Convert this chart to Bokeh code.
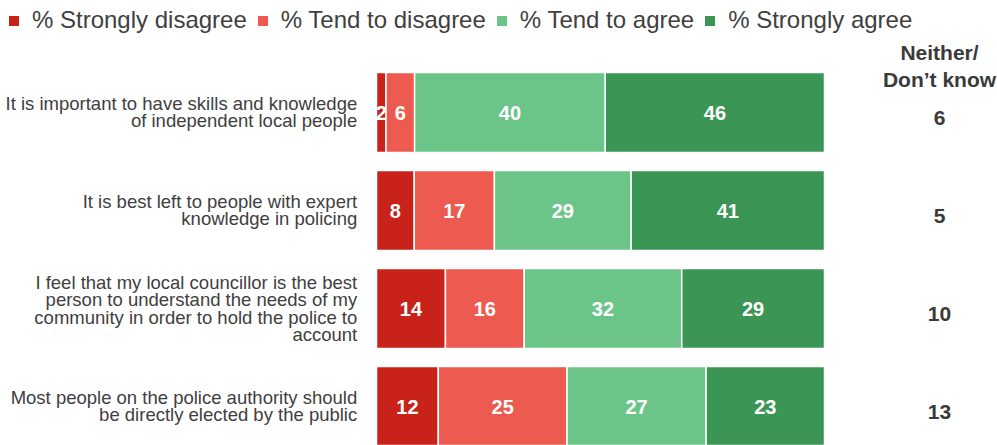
from bokeh.plotting import figure
from bokeh.models import Range1d, ColumnDataSource, Legend, LegendItem
from bokeh.core.properties import value
from bokeh.embed import file_html
from bokeh.resources import INLINE
import numpy as np

# ---- data ----
statements = [
    "It is important to have skills and knowledge\nof independent local people",
    "It is best left to people with expert\nknowledge in policing",
    "I feel that my local councillor is the best\nperson to understand the needs of my\ncommunity in order to hold the police to\naccount",
    "Most people on the police authority should\nbe directly elected by the public",
]
strongly_disagree = [2, 8, 14, 12]
tend_disagree = [6, 17, 16, 25]
tend_agree = [40, 29, 32, 27]
strongly_agree = [46, 41, 29, 23]
neither_dont_know = [6, 5, 10, 13]
series_names = ["% Strongly disagree", "% Tend to disagree", "% Tend to agree", "% Strongly agree"]
neither_header = "Neither/\nDon\u2019t know"

# ---- styles ----
colors = ["#C8221A", "#EC5A50", "#6CC588", "#3B9555"]
FONT = "Liberation Sans"
W, H = 997, 445
PX = 4.48          # pixels per percent of bar
X0 = 376           # pixel where bars begin
ROW0, STEP = 112, 98

vals = np.array([strongly_disagree, tend_disagree, tend_agree, strongly_agree], dtype=float)
totals = vals.sum(axis=0)
shares = vals / totals * 100.0
rights = shares.cumsum(axis=0)
lefts = rights - shares
rows = np.arange(len(statements), dtype=float)

p = figure(width=W, height=H,
           x_range=Range1d(-X0 / PX, (W - X0) / PX),
           y_range=Range1d((H - ROW0) / STEP, -ROW0 / STEP),
           output_backend="svg", toolbar_location=None, min_border=0,
           x_axis_location=None, y_axis_location=None)
p.grid.visible = False
p.outline_line_color = None
p.background_fill_color = "white"
p.border_fill_color = "white"

for k in range(4):
    src = ColumnDataSource(dict(
        y=rows, left=lefts[k], right=rights[k],
        xm=(lefts[k] + rights[k]) / 2.0,
        lab=[str(int(v)) for v in vals[k]],
    ))
    p.hbar(y="y", left="left", right="right", height=0.816, source=src,
           fill_color=colors[k], line_color="white", line_width=1.5)
    p.text(x="xm", y="y", text="lab", source=src, text_color="white",
           text_font=value(FONT), text_font_style="bold", text_font_size="20px",
           text_align="center", text_baseline="middle")

# category labels
p.text(x=[-4.3] * len(rows), y=rows, text=statements, text_color="#404040",
       text_font=value(FONT), text_font_size="18.5px", text_align="right",
       text_baseline="middle", text_line_height=0.81)

# neither / don't know column
RX = (939 - X0) / PX
p.text(x=[RX], y=[(65.3 - ROW0) / STEP], text=[neither_header], text_color="#3a3a3a",
       text_font=value(FONT), text_font_style="bold", text_font_size="21px",
       text_align="center", text_baseline="middle", text_line_height=1.2)
p.text(x=[RX] * len(rows), y=rows + 0.06, text=[str(v) for v in neither_dont_know],
       text_color="#3a3a3a", text_font=value(FONT), text_font_style="bold",
       text_font_size="21px", text_align="center", text_baseline="middle")

# legend (swatch-only renderers, nothing visible in the plot area)
items = []
for k in range(4):
    r = p.scatter(x=[np.nan], y=[np.nan], marker="square", size=10,
                  fill_color=colors[k], line_color=None)
    items.append(LegendItem(label=series_names[k], renderers=[r]))
legend = Legend(items=items, orientation="horizontal", location=(1, 411),
                margin=0, padding=0, spacing=3, glyph_width=25, glyph_height=25,
                label_standoff=6, label_text_font=FONT, label_text_font_size="24px",
                label_text_color="#404040", border_line_color=None,
                background_fill_alpha=0)
p.add_layout(legend)

open("out.html", "w").write(file_html(p, INLINE))
